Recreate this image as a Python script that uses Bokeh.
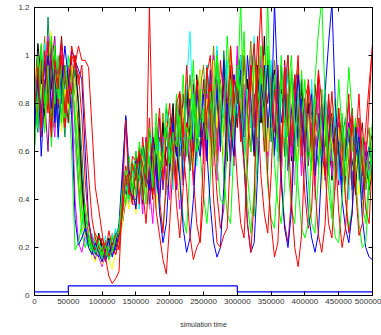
from bokeh.plotting import figure
from bokeh.models import Range1d, LinearAxis, FixedTicker, NumeralTickFormatter
from bokeh.embed import file_html
from bokeh.resources import INLINE

# x sampled every 5000 simulation-time units
x_step = 5000
n_points = 101
sim_time = [i * x_step for i in range(n_points)]

# series values in hundredths
s_red_dips = [78, 95, 70, 102, 85, 66, 98, 88, 105, 92,
              80, 100, 96, 104, 98, 98, 95, 70, 45, 36,
              26, 16, 8, 5, 7, 10, 40, 73, 45, 38,
              52, 60, 55, 45, 120, 60, 35, 25, 15, 9,
              30, 55, 80, 85, 60, 45, 25, 15, 20, 23,
              60, 95, 75, 40, 22, 20, 25, 28, 60, 90,
              85, 70, 55, 30, 18, 40, 90, 122, 80, 50,
              30, 16, 22, 55, 95, 70, 40, 20, 12, 25,
              60, 90, 75, 45, 25, 18, 30, 65, 85, 60,
              35, 20, 28, 50, 75, 45, 25, 30, 55, 80,
              105]
s_green_dips = [92, 70, 105, 80, 96, 62, 88, 100, 75, 95,
                85, 60, 19, 22, 30, 38, 26, 20, 18, 22,
                17, 21, 15, 19, 24, 28, 45, 38, 50, 42,
                55, 48, 62, 50, 58, 45, 66, 52, 60, 70,
                55, 68, 62, 75, 58, 70, 65, 80, 60, 72,
                78, 65, 85, 70, 55, 40, 38, 60, 90, 75,
                82, 123, 70, 50, 35, 33, 60, 95, 80, 122,
                75, 55, 38, 30, 45, 85, 100, 70, 45, 28,
                24, 30, 60, 90, 110, 123, 80, 55, 35, 24,
                22, 40, 70, 95, 75, 50, 30, 20, 22, 45,
                60]
s_blue_dips = [70, 92, 58, 86, 100, 78, 94, 66, 88, 104,
               90, 75, 32, 21, 24, 28, 20, 17, 22, 18,
               14, 19, 23, 16, 21, 30, 52, 74, 46, 40,
               56, 48, 62, 50, 44, 66, 58, 35, 22, 30,
               55, 70, 62, 48, 28, 18, 24, 40, 65, 58,
               72, 60, 38, 22, 16, 20, 45, 80, 70, 58,
               86, 74, 55, 30, 18, 22, 50, 88, 78, 96,
               70, 122, 85, 50, 28, 20, 35, 70, 92, 75,
               58, 35, 24, 18, 26, 55, 85, 105, 122, 80,
               60, 40, 28, 22, 35, 70, 55, 32, 20, 16,
               15]
s_red_dips2 = [90, 74, 98, 82, 106, 70, 94, 86, 100, 76,
               92, 84, 100, 88, 96, 70, 50, 32, 24, 20,
               18, 22, 16, 21, 25, 19, 36, 50, 42, 55,
               48, 60, 44, 30, 52, 66, 58, 40, 26, 48,
               70, 62, 38, 24, 45, 72, 66, 50, 30, 22,
               40, 76, 88, 64, 42, 28, 36, 80, 96, 70,
               48, 30, 24, 55, 90, 105, 78, 50, 34, 26,
               50, 86, 74, 46, 30, 22, 40, 82, 100, 64,
               42, 28, 36, 70, 94, 80, 52, 30, 24, 48,
               78, 64, 40, 26, 34, 62, 84, 56, 36, 30,
               58]
s_green_dips2 = [76, 100, 84, 68, 94, 108, 80, 90, 72, 96,
                 88, 94, 70, 45, 26, 20, 24, 18, 21, 17,
                 20, 16, 23, 18, 22, 27, 40, 48, 58, 44,
                 60, 52, 40, 64, 56, 48, 70, 34, 28, 46,
                 66, 58, 78, 50, 32, 26, 55, 84, 70, 60,
                 42, 30, 48, 86, 100, 76, 50, 34, 30, 62,
                 92, 78, 58, 38, 26, 44, 88, 104, 70, 46,
                 32, 28, 52, 90, 76, 54, 36, 30, 58, 94,
                 72, 48, 30, 26, 50, 86, 70, 44, 32, 60,
                 90, 68, 42, 28, 36, 72, 60, 38, 30, 50,
                 66]
s_magenta = [85, 100, 72, 95, 108, 80, 66, 90, 103, 78,
             95, 88, 40, 22, 18, 25, 30, 24, 20, 16,
             12, 18, 22, 17, 25, 28, 35, 50, 44, 38,
             38, 52, 34, 60, 45, 30, 58, 42, 66, 48,
             40, 70, 52, 36, 74, 58, 80, 46, 62, 90,
             55, 84, 66, 100, 48, 78, 92, 60, 86, 70,
             104, 66, 88, 52, 96, 78, 62, 100, 74, 58,
             90, 64, 80, 48, 96, 70, 58, 86, 74, 50,
             82, 60, 72, 46, 88, 56, 68, 78, 50, 64,
             72, 44, 62, 80, 50, 58, 70, 42, 64, 52,
             60]
s_cyan = [70, 92, 80, 105, 88, 75, 98, 65, 90, 84,
          100, 95, 85, 60, 35, 24, 20, 26, 18, 22,
          19, 25, 17, 22, 28, 20, 38, 46, 40, 52,
          50, 36, 62, 44, 56, 70, 40, 64, 52, 76,
          58, 44, 82, 66, 50, 88, 110, 72, 54, 92,
          70, 96, 56, 84, 104, 62, 78, 98, 50, 88,
          76, 100, 60, 86, 70, 108, 54, 92, 80, 64,
          98, 72, 56, 84, 66, 100, 60, 78, 88, 54,
          76, 62, 90, 58, 70, 48, 84, 64, 56, 78,
          48, 70, 60, 40, 66, 54, 74, 46, 58, 50,
          62]
s_yellow = [98, 76, 88, 70, 95, 110, 82, 92, 68, 86,
            78, 96, 88, 55, 30, 25, 22, 16, 14, 19,
            13, 20, 15, 11, 18, 22, 30, 42, 36, 48,
            34, 48, 58, 40, 66, 44, 36, 60, 50, 72,
            46, 64, 56, 40, 78, 62, 86, 52, 70, 94,
            64, 82, 52, 98, 70, 88, 58, 80, 104, 66,
            92, 74, 106, 56, 84, 96, 66, 78, 100, 60,
            86, 66, 94, 52, 78, 62, 88, 70, 56, 82,
            60, 76, 50, 70, 64, 44, 74, 58, 66, 48,
            70, 56, 44, 64, 52, 60, 42, 58, 50, 46,
            54]
s_black = [80, 105, 90, 74, 98, 86, 102, 70, 95, 88,
           92, 84, 100, 78, 50, 28, 21, 24, 18, 26,
           20, 16, 24, 19, 22, 26, 30, 40, 52, 46,
           44, 60, 38, 52, 68, 42, 56, 48, 72, 54,
           64, 80, 50, 70, 58, 86, 66, 54, 92, 74,
           60, 96, 78, 62, 102, 74, 88, 56, 94, 70,
           84, 100, 64, 90, 76, 58, 96, 72, 108, 66,
           80, 94, 60, 86, 72, 100, 56, 78, 66, 90,
           62, 80, 54, 72, 90, 50, 66, 76, 48, 70,
           58, 74, 46, 64, 56, 42, 68, 50, 60, 44,
           52]
s_gray = [66, 90, 78, 100, 84, 72, 94, 80, 70, 92,
          86, 74, 62, 45, 30, 22, 25, 19, 23, 17,
          22, 18, 21, 26, 20, 24, 32, 44, 38, 50,
          56, 40, 50, 64, 36, 54, 70, 46, 60, 42,
          74, 52, 66, 84, 48, 70, 62, 90, 58, 76,
          88, 64, 74, 54, 96, 80, 66, 90, 58, 84,
          70, 94, 58, 82, 100, 64, 86, 74, 96, 52,
          74, 88, 62, 96, 58, 80, 70, 46, 84, 64,
          56, 74, 68, 40, 80, 60, 72, 52, 64, 44,
          66, 50, 58, 72, 40, 56, 64, 48, 60, 42,
          56]
s_purple = [88, 72, 100, 82, 60, 96, 108, 78, 90, 74,
            84, 98, 70, 50, 32, 26, 23, 19, 15, 21,
            18, 14, 20, 24, 17, 22, 34, 40, 48, 42,
            60, 42, 48, 66, 38, 58, 50, 74, 44, 62,
            54, 76, 44, 62, 70, 82, 52, 78, 60, 94,
            72, 56, 84, 66, 90, 60, 98, 74, 82, 54,
            100, 76, 62, 90, 70, 84, 56, 96, 78, 64,
            92, 60, 82, 50, 76, 96, 66, 58, 84, 70,
            80, 54, 70, 62, 76, 48, 72, 60, 52, 74,
            46, 68, 56, 62, 74, 48, 58, 66, 44, 56,
            50]
s_olive = [74, 96, 84, 108, 78, 92, 70, 86, 100, 82,
           96, 80, 90, 66, 42, 28, 24, 20, 26, 22,
           16, 23, 18, 21, 27, 24, 36, 46, 42, 54,
           48, 62, 40, 54, 66, 44, 70, 52, 76, 46,
           58, 72, 50, 80, 60, 66, 92, 74, 56, 86,
           96, 70, 84, 104, 62, 90, 74, 98, 66, 82,
           92, 100, 68, 84, 106, 78, 62, 96, 72, 58,
           76, 98, 84, 62, 80, 54, 92, 74, 96, 60,
           72, 84, 56, 76, 66, 50, 70, 80, 52, 62,
           54, 70, 62, 46, 74, 52, 64, 44, 60, 70,
           48]
s_teal = [82, 68, 94, 76, 116, 88, 72, 98, 84, 66,
          90, 78, 94, 82, 60, 34, 25, 21, 17, 24,
          21, 19, 15, 23, 26, 20, 36, 44, 50, 40,
          40, 56, 62, 46, 70, 52, 44, 66, 58, 78,
          50, 72, 60, 84, 56, 90, 68, 48, 82, 94,
          66, 88, 58, 96, 76, 62, 102, 84, 70, 92,
          74, 96, 84, 60, 90, 104, 66, 86, 76, 98,
          64, 88, 72, 96, 58, 84, 62, 80, 92, 68,
          80, 58, 86, 66, 54, 76, 62, 82, 56, 72,
          50, 66, 74, 54, 46, 70, 58, 50, 64, 44,
          58]
s_maroon = [95, 80, 104, 70, 88, 98, 76, 92, 108, 86,
            72, 96, 84, 70, 46, 30, 22, 25, 21, 18,
            24, 20, 16, 19, 23, 27, 33, 48, 42, 46,
            36, 58, 46, 64, 52, 40, 68, 56, 50, 72,
            62, 48, 76, 58, 84, 66, 52, 88, 72, 60,
            90, 74, 62, 100, 80, 66, 94, 72, 104, 84,
            70, 92, 102, 76, 60, 98, 84, 72, 94, 80,
            96, 70, 86, 58, 98, 76, 62, 90, 72, 86,
            60, 80, 62, 88, 70, 54, 84, 64, 76, 50,
            72, 58, 48, 68, 78, 52, 62, 72, 46, 60,
            68]
s_green = [60, 86, 102, 78, 94, 70, 104, 82, 96, 74,
           100, 90, 76, 58, 36, 27, 22, 18, 24, 20,
           15, 22, 19, 25, 21, 29, 44, 52, 40, 56,
           42, 64, 54, 38, 70, 52, 76, 48, 56, 80,
           68, 52, 84, 66, 92, 58, 74, 98, 62, 86,
           70, 94, 80, 58, 100, 86, 68, 108, 84, 64,
           96, 82, 110, 70, 60, 98, 80, 92, 66, 104,
           78, 92, 60, 100, 74, 66, 94, 56, 86, 72,
           90, 64, 52, 82, 70, 58, 78, 50, 74, 82,
           56, 76, 50, 70, 60, 74, 48, 66, 44, 62,
           72]
s_red = [84, 100, 66, 90, 76, 106, 92, 80, 98, 70,
         88, 104, 96, 92, 75, 48, 30, 22, 19, 25,
         22, 18, 27, 20, 17, 24, 42, 54, 46, 58,
         56, 38, 66, 50, 74, 42, 62, 78, 48, 68,
         80, 56, 46, 84, 66, 96, 72, 58, 90, 74,
         62, 92, 100, 70, 56, 98, 82, 66, 104, 80,
         92, 64, 100, 76, 96, 70, 108, 84, 60, 98,
         88, 68, 96, 56, 86, 100, 62, 92, 78, 58,
         82, 88, 56, 74, 92, 60, 50, 84, 66, 58,
         78, 50, 64, 84, 46, 62, 74, 52, 70, 88,
         104]
s_blue = [62, 88, 76, 98, 84, 104, 72, 90, 80, 96,
          86, 102, 98, 94, 90, 60, 32, 22, 18, 16,
          20, 15, 18, 22, 19, 26, 48, 75, 52, 44,
          36, 54, 42, 60, 46, 64, 50, 38, 62, 70,
          52, 72, 58, 78, 46, 68, 82, 60, 88, 66,
          84, 58, 94, 70, 86, 62, 98, 76, 56, 92,
          80, 94, 66, 100, 82, 60, 90, 74, 96, 70,
          86, 58, 94, 72, 84, 52, 76, 92, 62, 82,
          60, 76, 84, 50, 68, 80, 48, 66, 74, 54,
          64, 46, 60, 72, 44, 58, 66, 40, 56, 62,
          48]

series = [
    (s_gray, "#a0a0a0"),
    (s_maroon, "#8b0000"),
    (s_purple, "#8b008b"),
    (s_olive, "#808000"),
    (s_teal, "#008b45"),
    (s_black, "#000000"),
    (s_cyan, "#00ffff"),
    (s_magenta, "#ff00ff"),
    (s_yellow, "#ffff00"),
    (s_blue, "#0000ff"),
    (s_red, "#ff0000"),
    (s_green, "#00ff00"),
    (s_green_dips2, "#00ff00"),
    (s_red_dips2, "#ff0000"),
    (s_blue_dips, "#0000ff"),
    (s_green_dips, "#00ff00"),
    (s_red_dips, "#ff0000"),
]

# stepped input signal at the bottom
step_x = [0, 50000, 50000, 300000, 300000, 500000]
step_y = [0.015, 0.015, 0.04, 0.04, 0.015, 0.015]

x_ticks = [0, 50000, 100000, 150000, 200000, 250000, 300000, 350000, 400000, 450000, 500000]
y_ticks = [0, 0.2, 0.4, 0.6, 0.8, 1, 1.2]

FONT = "Liberation Sans"

p = figure(width=381, height=335, output_backend="svg", toolbar_location=None,
           x_range=Range1d(0, 500000), y_range=Range1d(0, 1.2),
           min_border_left=34, min_border_right=9, min_border_top=7, min_border_bottom=40)
p.background_fill_color = "white"
p.border_fill_color = "white"
p.outline_line_color = "black"
p.outline_line_width = 1
p.xgrid.visible = False
p.ygrid.visible = False

for vals, col in series:
    p.line(sim_time, [v / 100 for v in vals], line_color=col, line_width=1)

p.line(step_x, step_y, line_color="#0000ff", line_width=1.2)


def style_axis(ax, labels=True):
    ax.major_tick_in = 4
    ax.major_tick_out = 0
    ax.minor_tick_in = 0
    ax.minor_tick_out = 0
    ax.axis_line_color = "black"
    ax.major_tick_line_color = "black"
    ax.major_label_text_font = FONT
    ax.major_label_text_color = "#333333"
    ax.major_label_text_font_size = "8px"
    if not labels:
        ax.major_label_text_color = None
        ax.major_label_text_alpha = 0
        ax.major_label_text_font_size = "1px"
        ax.major_label_standoff = 0


xa = p.xaxis[0]
xa.ticker = FixedTicker(ticks=x_ticks)
xa.formatter = NumeralTickFormatter(format="0")
style_axis(xa)
xa.major_label_standoff = 3
xa.axis_label = "simulation time"
xa.axis_label_text_font = FONT
xa.axis_label_text_font_style = "normal"
xa.axis_label_text_font_size = "7px"
xa.axis_label_text_color = "#333333"
xa.axis_label_standoff = 14

ya = p.yaxis[0]
ya.ticker = FixedTicker(ticks=y_ticks)
ya.formatter = NumeralTickFormatter(format="0.[0]")
style_axis(ya)
ya.major_label_standoff = 5

top_ax = LinearAxis(ticker=FixedTicker(ticks=x_ticks))
style_axis(top_ax, labels=False)
p.add_layout(top_ax, "above")
right_ax = LinearAxis(ticker=FixedTicker(ticks=y_ticks))
style_axis(right_ax, labels=False)
p.add_layout(right_ax, "right")

open("out.html", "w").write(file_html(p, INLINE))
